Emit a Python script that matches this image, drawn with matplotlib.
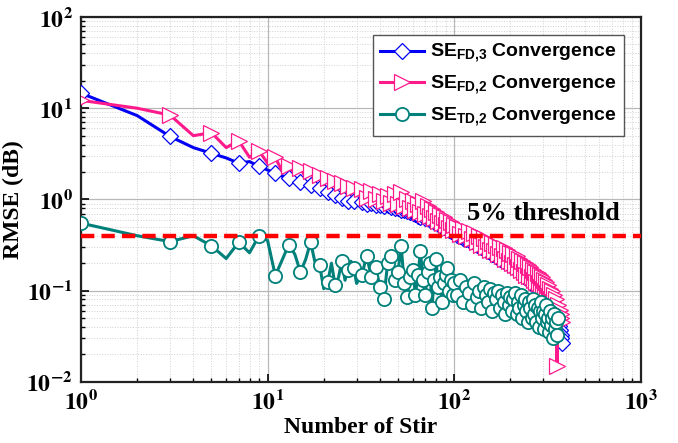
import numpy as np
import matplotlib
matplotlib.use('Agg')
import matplotlib.pyplot as plt
from matplotlib.ticker import LogLocator, FixedFormatter, FixedLocator

plt.rcParams['mathtext.fontset'] = 'custom'
plt.rcParams['mathtext.rm'] = 'Liberation Sans:bold'
plt.rcParams['mathtext.bf'] = 'Liberation Sans:bold'

# stir numbers: every stir up to 30, then every 2nd up to 100, then every 4th
stir = list(range(1, 31)) + list(range(32, 101, 2)) + list(range(104, 381, 4))

se_fd3 = [14.6, 8.3, 4.9, 3.7, 3.2, 2.85, 2.5, 2.6, 2.3, 2.1,
          1.95, 1.8, 1.72, 1.62, 1.55, 1.5, 1.45, 1.38, 1.32, 1.27,
          1.2, 1.16, 1.12, 1.08, 1.05, 1.0, 0.97, 0.98, 0.95, 0.94,
          # 32..100
          0.93, 0.9, 0.92, 0.88, 0.87, 0.85, 0.86, 0.82, 0.8, 0.81,
          0.77, 0.76, 0.74, 0.72, 0.71, 0.69, 0.66, 0.65, 0.66, 0.63,
          0.62, 0.6, 0.59, 0.57, 0.56, 0.54, 0.53, 0.51, 0.5, 0.49,
          0.47, 0.46, 0.45, 0.44, 0.43,
          # 104..380
          0.41, 0.4, 0.38, 0.37, 0.36, 0.35, 0.34, 0.32, 0.31, 0.3,
          0.29, 0.28, 0.27, 0.265, 0.255, 0.25, 0.24, 0.23, 0.225, 0.22,
          0.21, 0.205, 0.2, 0.195, 0.19, 0.185, 0.18, 0.175, 0.17, 0.165,
          0.16, 0.155, 0.15, 0.145, 0.14, 0.137, 0.133, 0.13, 0.126, 0.122,
          0.118, 0.115, 0.112, 0.108, 0.105, 0.102, 0.099, 0.096, 0.093, 0.09,
          0.087, 0.084, 0.081, 0.078, 0.075, 0.072, 0.069, 0.066, 0.063, 0.06,
          0.057, 0.054, 0.051, 0.048, 0.045, 0.041, 0.037, 0.033, 0.03, 0.027]

se_fd2 = [12.2, 10.0, 8.4, 5.0, 5.4, 3.7, 4.4, 2.9, 3.4, 2.5,
          2.9, 2.0, 2.35, 1.9, 2.2, 1.75, 2.05, 1.6, 1.85, 1.45,
          1.7, 1.38, 1.6, 1.3, 1.5, 1.25, 1.42, 1.15, 1.35, 1.1,
          # 32..100
          1.3, 1.05, 1.25, 1.0, 1.15, 0.95, 1.1, 0.92, 1.15, 0.9,
          1.2, 0.85, 1.0, 0.8, 0.95, 0.76, 0.9, 0.72, 0.95, 0.7,
          0.85, 0.66, 0.78, 0.62, 0.72, 0.58, 0.68, 0.55, 0.64, 0.52,
          0.6, 0.49, 0.56, 0.46, 0.52,
          # 104..380
          0.5, 0.42, 0.48, 0.4, 0.45, 0.37, 0.43, 0.34, 0.4, 0.32,
          0.38, 0.3, 0.35, 0.28, 0.33, 0.27, 0.32, 0.25, 0.3, 0.24,
          0.29, 0.22, 0.28, 0.21, 0.26, 0.2, 0.25, 0.19, 0.24, 0.18,
          0.22, 0.17, 0.21, 0.16, 0.2, 0.15, 0.19, 0.145, 0.18, 0.14,
          0.17, 0.13, 0.16, 0.125, 0.155, 0.12, 0.15, 0.11, 0.14, 0.105,
          0.13, 0.1, 0.125, 0.095, 0.115, 0.088, 0.105, 0.08, 0.1, 0.075,
          0.09, 0.068, 0.08, 0.015, 0.07, 0.06, 0.062, 0.05, 0.055, 0.045]

se_td2 = [0.55, 0.40, 0.345, 0.40, 0.31, 0.225, 0.34, 0.26, 0.40, 0.355,
          0.146, 0.22, 0.32, 0.25, 0.16, 0.22, 0.34, 0.2, 0.19, 0.105,
          0.125, 0.2, 0.115, 0.14, 0.21, 0.13, 0.17, 0.21, 0.175, 0.12,
          # 32..100
          0.15, 0.24, 0.14, 0.18, 0.11, 0.082, 0.2, 0.24, 0.13, 0.16,
          0.31, 0.12, 0.085, 0.14, 0.17, 0.09, 0.15, 0.27, 0.13, 0.09,
          0.16, 0.2, 0.065, 0.13, 0.22, 0.11, 0.14, 0.075, 0.12, 0.15,
          0.175, 0.1, 0.13, 0.09, 0.12,
          # 104..380
          0.09, 0.13, 0.075, 0.11, 0.095, 0.07, 0.12, 0.085, 0.1, 0.065,
          0.11, 0.09, 0.075, 0.105, 0.06, 0.095, 0.08, 0.1, 0.065, 0.09,
          0.075, 0.055, 0.095, 0.07, 0.085, 0.06, 0.08, 0.095, 0.055, 0.075,
          0.065, 0.09, 0.05, 0.07, 0.08, 0.06, 0.045, 0.075, 0.065, 0.05,
          0.08, 0.055, 0.07, 0.045, 0.065, 0.04, 0.06, 0.075, 0.05, 0.06,
          0.038, 0.055, 0.07, 0.045, 0.05, 0.035, 0.06, 0.042, 0.05, 0.03,
          0.055, 0.038, 0.045, 0.033, 0.05, np.nan, np.nan, np.nan, np.nan, np.nan]

threshold = 0.4

fig = plt.figure(figsize=(6.78, 4.43), dpi=100)
ax = fig.add_axes([0.1195, 0.138, 0.8255, 0.8236])

n = len(stir)
mk = list(range(0, 30, 2)) + list(range(30, n))

blue = '#0000f5'
pink = '#ff1a8c'
teal = '#00807a'

ax.plot(stir, se_fd3, '-', color=blue, lw=2.2, marker='D', ms=8.5, mfc='white',
        mec=blue, mew=0.9, markevery=mk, label=r'SE$_{\mathrm{FD{,}3}}$ Convergence', zorder=3)
ax.plot(stir, se_fd2, '-', color=pink, lw=2.2, marker='>', ms=11, mfc='white',
        mec=pink, mew=0.9, markevery=mk, label=r'SE$_{\mathrm{FD{,}2}}$ Convergence', zorder=4)
ax.plot(stir, se_td2, '-', color=teal, lw=2.2, marker='o', ms=9.5, mfc='white',
        mec=teal, mew=1.3, markevery=mk, label=r'SE$_{\mathrm{TD{,}2}}$ Convergence', zorder=5)
ax.axhline(threshold, color='#ff0000', lw=3.2, ls=(0, (3, 1.6)), zorder=6)

ax.set_xscale('log')
ax.set_yscale('log')
ax.set_xlim(1, 1000)
ax.set_ylim(0.01, 100)

ax.xaxis.set_major_locator(FixedLocator([1, 10, 100, 1000]))
ax.yaxis.set_major_locator(FixedLocator([0.01, 0.1, 1, 10, 100]))
ax.xaxis.set_major_formatter(FixedFormatter([r'$\mathbf{10^{0}}$', r'$\mathbf{10^{1}}$',
                                             r'$\mathbf{10^{2}}$', r'$\mathbf{10^{3}}$']))
ax.yaxis.set_major_formatter(FixedFormatter([r'$\mathbf{10^{-2}}$', r'$\mathbf{10^{-1}}$',
                                             r'$\mathbf{10^{0}}$', r'$\mathbf{10^{1}}$',
                                             r'$\mathbf{10^{2}}$']))
ax.xaxis.set_minor_locator(LogLocator(base=10, subs=np.arange(2, 10)))
ax.yaxis.set_minor_locator(LogLocator(base=10, subs=np.arange(2, 10)))
ax.xaxis.set_minor_formatter(FixedFormatter([]))
ax.yaxis.set_minor_formatter(FixedFormatter([]))
for lab in ax.get_xticklabels() + ax.get_yticklabels():
    lab.set_math_fontfamily('stix')
    lab.set_fontsize(17)

ax.tick_params(which='major', direction='in', length=6, width=1.2, pad=6)
ax.tick_params(which='minor', direction='in', length=3, width=1.0)
ax.grid(True, which='major', color='#b8b8b8', lw=0.9)
ax.grid(True, which='minor', color='#d0d0d0', lw=0.7, ls=':')
ax.set_axisbelow(True)
for s in ax.spines.values():
    s.set_linewidth(1.6)
    s.set_color('#222222')

ax.set_xlabel('Number of Stir', fontsize=17, fontweight='bold', family='Liberation Serif', labelpad=2)
ax.set_ylabel('RMSE (dB)', fontsize=17, fontweight='bold', family='Liberation Serif', labelpad=2)

ax.text(117, 0.6, '5% threshold', fontsize=19, fontweight='bold', family='Liberation Serif',
        va='baseline', ha='left', zorder=7)

leg = ax.legend(loc='upper right', bbox_to_anchor=(0.987, 0.977), numpoints=1, fancybox=False,
                edgecolor='#555555', framealpha=1, borderpad=0.35, labelspacing=0.45,
                handlelength=2.3, handletextpad=0.3,
                prop={'family': 'Liberation Sans', 'weight': 'bold', 'size': 14})
leg.get_frame().set_linewidth(1.0)
leg.set_zorder(10)

plt.savefig('out.png', dpi=100)
